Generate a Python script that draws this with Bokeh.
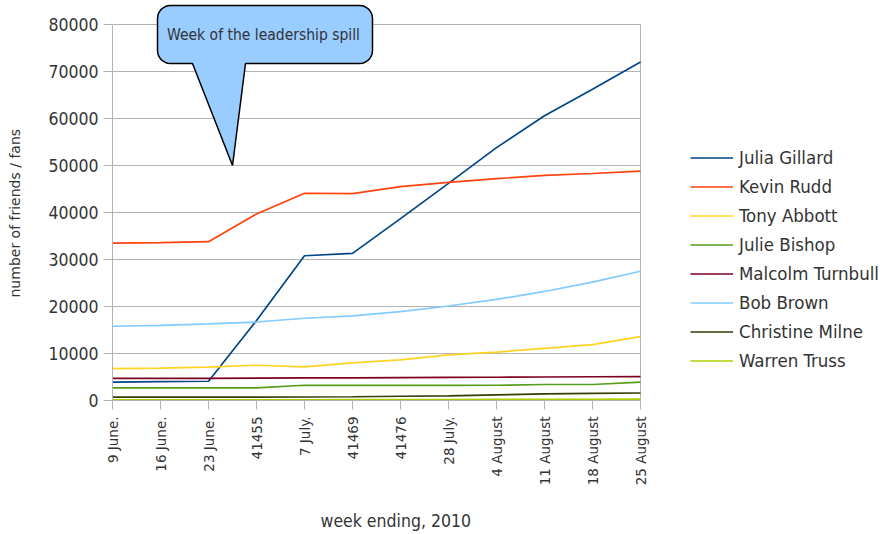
import numpy as np
from bokeh.plotting import figure
from bokeh.models import (Range1d, FixedTicker, Legend, LegendItem, Label, Title)
from bokeh.embed import file_html
from bokeh.resources import INLINE

# ---------------- data ----------------
categories = ["9 June.", "16 June.", "23 June.", "41455", "7 July.", "41469",
              "41476", "28 July.", "4 August", "11 August", "18 August", "25 August"]

julia_gillard    = [3900, 4000, 4100, 17000, 30800, 31300, 38700, 46200, 53800, 60600, 66200, 72000]
kevin_rudd       = [33500, 33600, 33800, 39700, 44100, 44000, 45500, 46400, 47200, 47900, 48300, 48800]
tony_abbott      = [6800, 6900, 7100, 7500, 7150, 8000, 8650, 9700, 10300, 11100, 11900, 13600]
julie_bishop     = [2700, 2700, 2700, 2700, 3250, 3200, 3200, 3200, 3250, 3400, 3400, 3900]
malcolm_turnbull = [4700, 4700, 4700, 4750, 4800, 4800, 4850, 4900, 4950, 5000, 5050, 5100]
bob_brown        = [15800, 16000, 16300, 16700, 17500, 18000, 18900, 20100, 21500, 23200, 25200, 27500]
christine_milne  = [700, 700, 700, 700, 750, 800, 900, 1000, 1200, 1400, 1500, 1600]
warren_truss     = [150, 150, 150, 150, 150, 200, 200, 200, 250, 250, 250, 300]

series_names = ["Julia Gillard", "Kevin Rudd", "Tony Abbott", "Julie Bishop",
                "Malcolm Turnbull", "Bob Brown", "Christine Milne", "Warren Truss"]
series_values = [julia_gillard, kevin_rudd, tony_abbott, julie_bishop,
                 malcolm_turnbull, bob_brown, christine_milne, warren_truss]
series_colors = ["#004586", "#ff420e", "#ffd320", "#579d1c",
                 "#7e0021", "#83caff", "#314004", "#aecf00"]

y_ticks = [0, 10000, 20000, 30000, 40000, 50000, 60000, 70000, 80000]
callout_text = "Week of the leadership spill"
x_title = "week ending, 2010"
y_title = "number of friends / fans"

# ---------------- styling / layout ----------------
COND = "'DejaVu Sans Condensed', 'DejaVu Sans'"
REG = "'DejaVu Sans'"
TXT = "#333333"
GRID = "#b3b3b3"
PAD = "\u00a0"        # invisible axis label, used only as spacing before the titles

W, H = 884, 534
FRAME_L = 112          # left edge of plot frame (px)
STEP = 48              # px per category step
FRAME_H = 400          # frame height (px), frame top at 0
Y80_PX = 24            # px of the top tick
n_cat = len(categories)
x_idx = list(range(n_cat))
x_last = n_cat - 1

X_END = (W - FRAME_L) / STEP
Y_TOP = y_ticks[-1] * FRAME_H / (FRAME_H - Y80_PX)

p = figure(width=W, height=H, output_backend="svg", toolbar_location=None,
           x_range=Range1d(0, X_END), y_range=Range1d(0, Y_TOP),
           min_border_left=FRAME_L, min_border_right=0,
           min_border_top=0, min_border_bottom=H - FRAME_H)
p.outline_line_color = None
p.background_fill_color = "white"
p.border_fill_color = "white"
p.xgrid.grid_line_color = None
p.ygrid.grid_line_color = None

# x axis
p.xaxis.ticker = FixedTicker(ticks=x_idx)
p.xaxis.bounds = (0, x_last)
p.xaxis.major_label_overrides = {i: c for i, c in enumerate(categories)}
p.xaxis.major_label_orientation = np.pi / 2
p.xaxis.major_label_text_font = REG
p.xaxis.major_label_text_font_size = "13.5px"
p.xaxis.major_label_text_color = TXT
p.xaxis.major_label_standoff = 7
p.xaxis.axis_label = PAD
p.xaxis.axis_label_text_font_size = "10px"
p.xaxis.axis_label_standoff = 7

# y axis
p.yaxis.ticker = FixedTicker(ticks=y_ticks)
p.yaxis.bounds = (y_ticks[0], y_ticks[-1])
p.yaxis.major_label_text_font = COND
p.yaxis.major_label_text_font_size = "17.5px"
p.yaxis.major_label_text_color = TXT
p.yaxis.major_label_standoff = 5
p.yaxis.axis_label = PAD
p.yaxis.axis_label_text_font_size = "10px"
p.yaxis.axis_label_standoff = 8

for ax in (p.xaxis[0], p.yaxis[0]):
    ax.axis_line_color = GRID
    ax.major_tick_line_color = GRID
    ax.major_tick_out = 9
    ax.major_tick_in = 0
    ax.minor_tick_line_color = None

# axis titles (as side titles so they can be offset like the original)
p.add_layout(Title(text=x_title, align="left", offset=320 - FRAME_L,
                   vertical_align="middle", standoff=0,
                   text_font=COND, text_font_size="17.5px", text_font_style="normal",
                   text_color=TXT), "below")
p.add_layout(Title(text=y_title, align="left", offset=FRAME_H - 297,
                   vertical_align="middle", standoff=0,
                   text_font=REG, text_font_size="14px", text_font_style="normal",
                   text_color=TXT), "left")

# horizontal grid lines and right border of the chart area
p.segment(x0=[0] * len(y_ticks), y0=y_ticks, x1=[x_last] * len(y_ticks), y1=y_ticks,
          line_color=GRID, line_width=1)
p.segment(x0=[x_last], y0=[y_ticks[0]], x1=[x_last], y1=[y_ticks[-1]],
          line_color=GRID, line_width=1)

# series
items = []
for name, vals, col in zip(series_names, series_values, series_colors):
    r = p.line(x_idx, vals, line_color=col, line_width=1.7)
    items.append(LegendItem(label=name, renderers=[r]))

legend = Legend(items=items, location=(690 - FRAME_L, 29), margin=0, padding=0,
                glyph_width=43, glyph_height=21, label_height=21, spacing=8,
                label_standoff=6, label_text_font=COND, label_text_font_size="18.5px",
                label_text_color=TXT, border_line_color=None,
                background_fill_alpha=0)
p.add_layout(legend, "center")

# callout bubble (annotation geometry given in page pixels, mapped to data units)
page_x = lambda v: (v - FRAME_L) / STEP
page_y = lambda v: (FRAME_H - v) * Y_TOP / FRAME_H

bl, br, bt, bb = 157, 372, 5, 63
base_l, base_r = 192, 245
tip = (232, 165)
rad = 13

def arc(cx, cy, a0, a1, n=8):
    return [(cx + rad * np.cos(a), cy - rad * np.sin(a)) for a in np.linspace(a0, a1, n)]

pts = []
pts += arc(bl + rad, bt + rad, np.pi, np.pi / 2)
pts += arc(br - rad, bt + rad, np.pi / 2, 0)
pts += arc(br - rad, bb - rad, 0, -np.pi / 2)
pts += [(base_r, bb), tip, (base_l, bb)]
pts += arc(bl + rad, bb - rad, -np.pi / 2, -np.pi)
p.patch([page_x(a) for a, b in pts], [page_y(b) for a, b in pts],
        fill_color="#99ccff", line_color="black", line_width=1.5)

p.add_layout(Label(x=page_x(263), y=page_y(34), text=callout_text,
                   text_font=COND, text_font_size="15.5px", text_color=TXT,
                   text_align="center", text_baseline="middle"))

open("out.html", "w").write(file_html(p, INLINE))
